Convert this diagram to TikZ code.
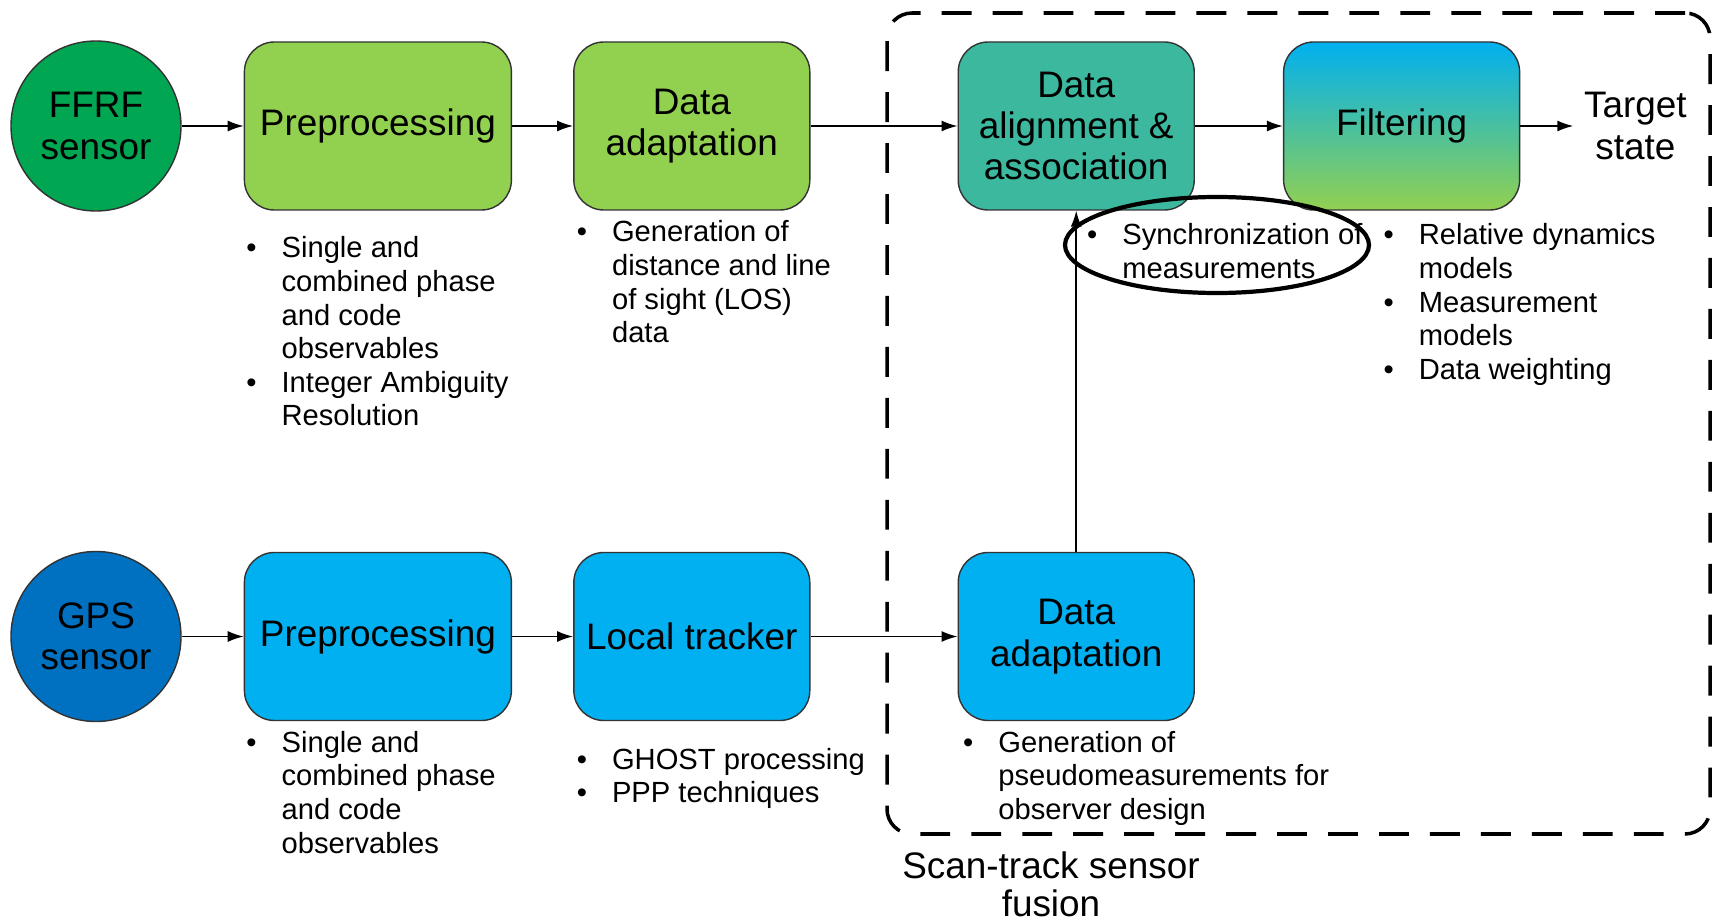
\documentclass[tikz,border=0pt]{standalone}
\usepackage{fontspec}
\setmainfont{Liberation Sans}
\usetikzlibrary{arrows.meta, positioning, shapes.geometric}

\definecolor{sensorgreen}{RGB}{0,166,81}
\definecolor{blockgreen}{RGB}{146,208,80}
\definecolor{sensorblue}{RGB}{0,112,192}
\definecolor{blockblue}{RGB}{0,176,240}
\definecolor{blockteal}{RGB}{60,184,158}

\newcommand{\bigfont}{\fontsize{10.5}{11.8}\selectfont}
\newcommand{\notefont}{\fontsize{8.3}{9.55}\selectfont}
\newcommand{\notelist}[1]{\begin{tabular}{@{}l@{\hspace{2.5mm}}l@{}}#1\end{tabular}}

\begin{document}
\begin{tikzpicture}[
      sensor/.style={circle, draw=black!80, minimum size=17mm, inner sep=0pt, align=center, font=\bigfont},
      block/.style={rectangle, rounded corners=3mm, draw=black!80, minimum width=23.6mm, minimum height=16.8mm, align=center, font=\bigfont},
      notes/.style={anchor=north west, inner sep=0pt, font=\notefont},
      flow/.style={-{Latex[length=1.6mm, width=1.1mm]}, line width=0.45pt}
    ]
    \useasboundingbox (0,0) rectangle (17.17,9.20);
    % FFRF chain
    \node[sensor, fill=sensorgreen] (ffrf) at (0.96,7.94) {FFRF\\sensor};
    \node[block, fill=blockgreen, minimum width=26.7mm, right=6.2mm of ffrf] (pre1) {Preprocessing};
    \node[block, fill=blockgreen, right=6.1mm of pre1] (da1) {Data\\adaptation};
    \node[block, fill=blockteal, right=14.7mm of da1] (align) {Data\\alignment \&\\association};
    \node[block, top color=blockblue, bottom color=blockgreen, right=8.8mm of align] (filt) {Filtering};
    \node[font=\bigfont, align=center, inner sep=1mm, right=5.3mm of filt] (target) {Target\\state};
    % GPS chain
    \node[sensor, fill=sensorblue] (gps) at (0.96,2.835) {GPS\\sensor};
    \node[block, fill=blockblue, minimum width=26.7mm, right=6.2mm of gps] (pre2) {Preprocessing};
    \node[block, fill=blockblue, right=6.1mm of pre2] (lt) {Local tracker};
    \node[block, fill=blockblue, right=14.7mm of lt] (da2) {Data\\adaptation};
    % notes
    \node[notes, below right=2.3mm and 0.2mm of pre1.south west] (pre1notes) {\notelist{\textbullet & Single and\\ & combined phase\\ & and code\\ & observables\\ \textbullet & Integer Ambiguity\\ & Resolution}};
    \node[notes, below right=0.7mm and 0.3mm of da1.south west] (da1notes) {\notelist{\textbullet & Generation of\\ & distance and line\\ & of sight (LOS)\\ & data}};
    \node[notes, below right=1.0mm and 12.9mm of align.south west] (alignnotes) {\notelist{\textbullet & Synchronization of\\ & measurements}};
    \node[notes, below right=1.0mm and 10.0mm of filt.south west] (filtnotes) {\notelist{\textbullet & Relative dynamics\\ & models\\ \textbullet & Measurement\\ & models\\ \textbullet & Data weighting}};
    \node[notes, below right=0.7mm and 0.2mm of pre2.south west] (pre2notes) {\notelist{\textbullet & Single and\\ & combined phase\\ & and code\\ & observables}};
    \node[notes, below right=2.4mm and 0.3mm of lt.south west] (ltnotes) {\notelist{\textbullet & GHOST processing\\ \textbullet & PPP techniques}};
    \node[notes, below right=0.7mm and 0.5mm of da2.south west] (da2notes) {\notelist{\textbullet & Generation of\\ & pseudomeasurements for\\ & observer design}};
    % fusion frame
    \node[draw, line width=1pt, dash pattern=on 8.5pt off 6pt, rounded corners=2.5mm, minimum width=82.3mm, minimum height=82.1mm] (fusion) at (12.985,4.965) {};
    \node[font=\fontsize{10.5}{10.8}\selectfont, align=center] (fusionlabel) at (10.51,0.36) {Scan-track sensor\\fusion};
    % connectors
    \draw[flow] (ffrf) -- (pre1);
    \draw[flow] (pre1) -- (da1);
    \draw[flow] (da1) -- (align);
    \draw[flow] (align) -- (filt);
    \draw[flow] (filt) -- (target);
    \draw[flow] (gps) -- (pre2);
    \draw[flow] (pre2) -- (lt);
    \draw[flow] (lt) -- (da2);
    \draw[flow] (da2) -- (align);
    % highlight
    \node[ellipse, draw, line width=1.2pt, minimum width=30.4mm, minimum height=9.6mm, inner sep=0pt] (syncmark) at (12.17,6.75) {};
\end{tikzpicture}
\end{document}
